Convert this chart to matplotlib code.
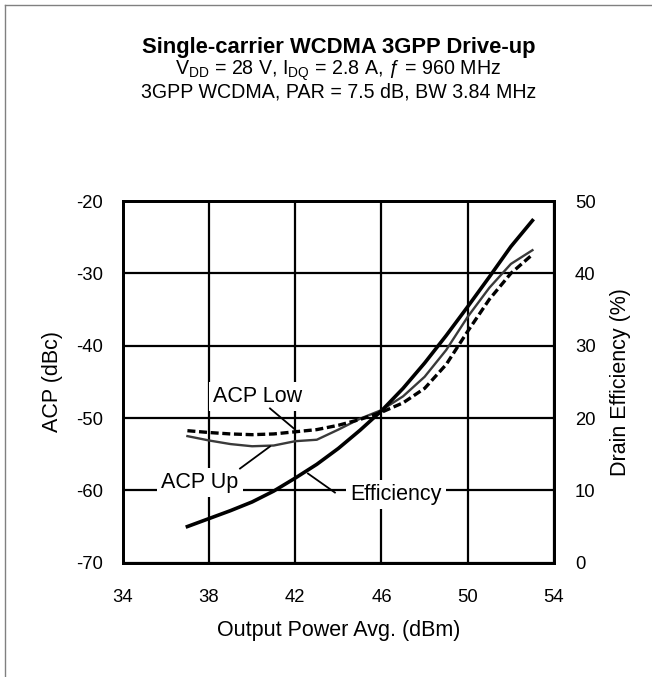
import matplotlib
matplotlib.use("Agg")
import matplotlib.pyplot as plt
from matplotlib.lines import Line2D

plt.rcParams['font.family'] = ['Liberation Sans', 'DejaVu Sans']
plt.rcParams['mathtext.fontset'] = 'custom'
plt.rcParams['mathtext.rm'] = 'Liberation Sans'
plt.rcParams['mathtext.it'] = 'Liberation Sans:italic'
plt.rcParams['mathtext.bf'] = 'Liberation Sans:bold'
plt.rcParams['axes.unicode_minus'] = False

# ---- data ----
pout = [37, 38, 39, 40, 41, 42, 43, 44, 45, 46, 47, 48, 49, 50, 51, 52, 53]
acp_low = [-51.75, -52.0, -52.2, -52.3, -52.2, -51.9, -51.6, -51.0, -50.2, -49.2,
           -47.9, -45.9, -42.6, -38.0, -33.6, -30.0, -27.4]
acp_up = [-52.5, -53.1, -53.6, -53.9, -53.8, -53.2, -53.0, -51.6, -50.1, -48.9,
          -47.0, -44.3, -40.6, -36.0, -32.0, -28.7, -26.8]
efficiency = [5.0, 6.1, 7.2, 8.4, 9.9, 11.7, 13.6, 15.8, 18.3, 21.0,
              24.1, 27.6, 31.4, 35.4, 39.5, 43.7, 47.3]

x_ticks = [34, 38, 42, 46, 50, 54]
acp_ticks = [-70, -60, -50, -40, -30, -20]
eff_ticks = [0, 10, 20, 30, 40, 50]

title = "Single-carrier WCDMA 3GPP Drive-up"
subtitle1 = r"V$_{\mathrm{DD}}$ = 28 V, I$_{\mathrm{DQ}}$ = 2.8 A, ƒ = 960 MHz"
subtitle2 = "3GPP WCDMA, PAR = 7.5 dB, BW 3.84 MHz"

# labels: (text, text position, leader start, leader end) in data coords
labels = [
    ("ACP Low", (40.27, -47.0), (40.83, -48.67), (41.99, -51.58)),
    ("ACP Up", (37.59, -58.9), (39.44, -56.98), (40.83, -53.93)),
    ("Efficiency", (46.67, -60.6), (43.84, -60.3), (42.59, -57.67)),
]

TXT = 15.5
SUB = 14.15
TITLE = 15.8
TICK = 13.3

fig = plt.figure(figsize=(6.52, 6.77), dpi=100)
ax = fig.add_axes([0.1882, 0.1688, 0.8497 - 0.1882, 0.7031 - 0.1688])
ax2 = ax.twinx()

ax.set_xlim(34, 54)
ax.set_ylim(-70, -20)
ax2.set_ylim(0, 50)
ax.set_xticks(x_ticks)
ax.set_yticks(acp_ticks)
ax2.set_yticks(eff_ticks)

ax.grid(True, color='black', linewidth=1.6)
ax.set_axisbelow(True)
for a in (ax, ax2):
    for s in a.spines.values():
        s.set_linewidth(2.0)
        s.set_color('black')
ax.tick_params(axis='both', length=0, labelsize=TICK)
ax.tick_params(axis='x', pad=19)
ax.tick_params(axis='y', pad=14)
ax2.tick_params(axis='y', length=0, labelsize=TICK, pad=15)

ax.plot(pout, acp_up, color='#3a3a3a', linewidth=1.7, zorder=4)
ax.plot(pout, acp_low, color='black', linewidth=2.4, linestyle=(0, (2.4, 1.1)), zorder=5)
ax2.plot(pout, efficiency, color='black', linewidth=2.6, zorder=5)

for txt, tpos, l0, l1 in labels:
    ax.text(tpos[0], tpos[1], txt, ha='center', va='center', fontsize=TXT, zorder=6,
            bbox=dict(facecolor='white', edgecolor='none', pad=3))
    ax.add_line(Line2D([l0[0], l1[0]], [l0[1], l1[1]], color='black', linewidth=1.3, zorder=6))

ax.set_xlabel("Output Power Avg. (dBm)", fontsize=TXT)
ax.set_ylabel("ACP (dBc)", fontsize=TXT)
ax2.set_ylabel("Drain Efficiency (%)", fontsize=TXT)
ax.xaxis.set_label_coords(0.5, -0.158)
ax.yaxis.set_label_coords(-0.138, 0.5)
ax2.yaxis.set_label_coords(1.130, 0.5)

cx = (0.1882 + 0.8497) / 2
fig.text(cx, 1 - 48 / 677, title, ha='center', va='center', fontsize=TITLE, fontweight='bold')
fig.text(cx, 1 - 71 / 677, subtitle1, ha='center', va='center', fontsize=SUB)
fig.text(cx, 1 - 92 / 677, subtitle2, ha='center', va='center', fontsize=SUB)

# partial frame (left and top edges)
fig.add_artist(Line2D([4.5 / 652, 4.5 / 652], [0, 1 - 4.5 / 677], transform=fig.transFigure,
                      color='#808080', linewidth=1.0))
fig.add_artist(Line2D([4.5 / 652, 1], [1 - 4.5 / 677, 1 - 4.5 / 677], transform=fig.transFigure,
                      color='#808080', linewidth=1.0))

fig.savefig("out.png", dpi=100)
